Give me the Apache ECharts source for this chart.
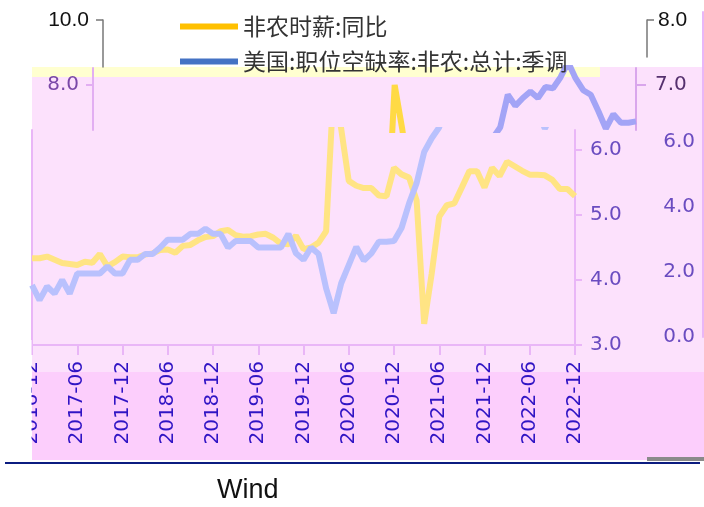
<!DOCTYPE html>
<html><head><meta charset="utf-8">
<script src="https://cdn.jsdelivr.net/npm/echarts@6/dist/echarts.min.js"></script>
<style>html,body{margin:0;padding:0;background:#fff}#c{width:704px;height:507px}</style>
</head><body><div id="c"></div>
<script>
const months = ["2016-12","2017-01","2017-02","2017-03","2017-04","2017-05","2017-06","2017-07","2017-08","2017-09","2017-10","2017-11",
"2017-12","2018-01","2018-02","2018-03","2018-04","2018-05","2018-06","2018-07","2018-08","2018-09","2018-10","2018-11",
"2018-12","2019-01","2019-02","2019-03","2019-04","2019-05","2019-06","2019-07","2019-08","2019-09","2019-10","2019-11",
"2019-12","2020-01","2020-02","2020-03","2020-04","2020-05","2020-06","2020-07","2020-08","2020-09","2020-10","2020-11",
"2020-12","2021-01","2021-02","2021-03","2021-04","2021-05","2021-06","2021-07","2021-08","2021-09","2021-10","2021-11",
"2021-12","2022-01","2022-02","2022-03","2022-04","2022-05","2022-06","2022-07","2022-08","2022-09","2022-10","2022-11","2022-12"];
// 非农时薪:同比 (left axis)
const wageYoY = [2.67,2.67,2.72,2.62,2.52,2.49,2.46,2.56,2.53,2.80,2.42,2.55,
2.72,2.70,2.70,2.78,2.82,2.92,2.94,2.84,3.05,3.08,3.22,3.32,
3.35,3.50,3.54,3.38,3.33,3.35,3.40,3.42,3.30,3.12,3.10,3.36,
2.95,3.00,3.15,3.50,8.00,6.65,5.05,4.90,4.83,4.83,4.60,4.58,
5.45,5.25,5.15,4.45,0.65,2.20,3.95,4.30,4.36,4.85,5.35,5.35,
4.85,5.45,5.20,5.64,5.50,5.36,5.24,5.24,5.22,5.08,4.80,4.80,4.58];
// 美国:职位空缺率:非农:总计:季调 (right axis)
const openingsRate = [3.92,3.69,3.90,3.79,4.00,3.79,4.10,4.10,4.10,4.10,4.21,4.10,
4.10,4.31,4.31,4.40,4.40,4.50,4.62,4.62,4.62,4.71,4.71,4.79,
4.71,4.71,4.50,4.60,4.60,4.60,4.50,4.50,4.50,4.50,4.71,4.41,
4.31,4.50,4.40,3.87,3.49,3.95,4.23,4.51,4.30,4.41,4.59,4.59,
4.60,4.80,5.18,5.49,5.97,6.18,6.35,6.85,6.68,6.80,6.90,6.80,
6.97,6.95,7.12,7.35,7.10,6.92,6.85,6.60,6.33,6.55,6.42,6.42,6.44];
const seriesNames = ["非农时薪:同比","美国:职位空缺率:非农:总计:季调"];
const rightTicks = [3,4,5,6];
const leftCopyTicks = [0,2,4,6];
const stripLeftTicks = [8];
const stripRightTicks = [7];
const topLeftTicks = [10];
const topRightTicks = [8];
const sourceText = "Wind";

const fmt = v => Number(v).toFixed(1);
const LP = '#E9B6F7';
const chart = echarts.init(document.getElementById('c'), null, {renderer:'canvas'});
function hiddenX(g){return {type:'value',gridIndex:g,show:false,min:0,max:1};}
chart.setOption({
  backgroundColor:'#ffffff',
  animation:false,
  legend:{
    orient:'vertical', left:175, top:10, itemGap:12, itemWidth:58, itemHeight:6, icon:'rect',
    textStyle:{fontSize:23, color:'#333', fontFamily:'"Noto Sans CJK SC", sans-serif'},
    data:[{name:seriesNames[0], itemStyle:{color:'#FFC000'}},{name:seriesNames[1], itemStyle:{color:'#4472C4'}}]
  },
  grid:[
    {left:32, top:130, width:543, height:215},
    {left:93, top:68, width:543, height:62},
    {left:703, top:12, width:1, height:325},
    {left:103, top:20, width:1, height:47},
    {left:647, top:20, width:1, height:37}
  ],
  xAxis:[
    {type:'category', gridIndex:0, data:months, boundaryGap:false,
     axisLine:{lineStyle:{color:LP, width:2}},
     axisTick:{interval:5, length:10, lineStyle:{color:LP, width:2}},
     axisLabel:{interval:5, rotate:90, margin:16, color:'#3014C4', fontSize:20, fontFamily:'"DejaVu Sans", sans-serif'}},
    {type:'category', gridIndex:1, data:months, boundaryGap:false, show:false},
    hiddenX(2), hiddenX(3), hiddenX(4)
  ],
  yAxis:[
    {type:'value', gridIndex:0, position:'left', min:0, max:6.6154, splitLine:{show:false},
     axisLine:{show:true, lineStyle:{color:LP, width:2}}, axisTick:{show:false}, axisLabel:{show:false}},
    {type:'value', gridIndex:0, position:'right', min:3, max:6.3077, splitLine:{show:false},
     axisLine:{show:true, lineStyle:{color:LP, width:2}},
     axisTick:{show:true, customValues:rightTicks, length:7, lineStyle:{color:LP, width:2}},
     axisLabel:{customValues:rightTicks, formatter:fmt, margin:15, color:'#6A4CC0', fontSize:20, fontFamily:'"DejaVu Sans", sans-serif'}},
    {type:'value', gridIndex:1, position:'left', min:6.6154, max:8.5231, splitLine:{show:false},
     axisLine:{show:true, lineStyle:{color:'#E2AEF2', width:2}},
     axisTick:{show:true, customValues:stripLeftTicks, length:7, lineStyle:{color:'#E2AEF2', width:2}},
     axisLabel:{customValues:stripLeftTicks, formatter:fmt, margin:14, color:'#7A48A8', fontSize:20, fontFamily:'"DejaVu Sans", sans-serif'}},
    {type:'value', gridIndex:1, position:'right', min:6.3077, max:7.2615, splitLine:{show:false},
     axisLine:{show:true, lineStyle:{color:'#D9A6EC', width:2}},
     axisTick:{show:true, customValues:stripRightTicks, length:10, lineStyle:{color:'#D9A6EC', width:2}},
     axisLabel:{customValues:stripRightTicks, formatter:fmt, margin:19, color:'#55306E', fontSize:20, fontFamily:'"DejaVu Sans", sans-serif'}},
    {type:'value', gridIndex:2, position:'left', min:0, max:10, splitLine:{show:false},
     axisLine:{show:true, lineStyle:{color:LP, width:2}}, axisTick:{show:false},
     axisLabel:{customValues:leftCopyTicks, formatter:fmt, margin:8, color:'#6A4CC0', fontSize:20, fontFamily:'"DejaVu Sans", sans-serif'}},
    {type:'value', gridIndex:3, position:'left', min:8.5538, max:10, splitLine:{show:false},
     axisLine:{show:true, lineStyle:{color:'#777', width:1.5}},
     axisTick:{show:true, customValues:topLeftTicks, length:7, lineStyle:{color:'#777', width:1.5}},
     axisLabel:{customValues:topLeftTicks, formatter:fmt, margin:14, color:'#111', fontSize:21, fontFamily:'"Liberation Sans", sans-serif'}},
    {type:'value', gridIndex:4, position:'right', min:7.4308, max:8, splitLine:{show:false},
     axisLine:{show:true, lineStyle:{color:'#777', width:1.5}},
     axisTick:{show:true, customValues:topRightTicks, length:7, lineStyle:{color:'#777', width:1.5}},
     axisLabel:{customValues:topRightTicks, formatter:fmt, margin:10, color:'#111', fontSize:21, fontFamily:'"Liberation Sans", sans-serif'}}
  ],
  series:[
    {name:seriesNames[0], type:'line', xAxisIndex:0, yAxisIndex:0, data:wageYoY, showSymbol:false, lineStyle:{color:'#FFE484', width:6}, itemStyle:{color:'#FFC000'}},
    {name:seriesNames[1], type:'line', xAxisIndex:0, yAxisIndex:1, data:openingsRate, showSymbol:false, lineStyle:{color:'#B9C1FD', width:6}, itemStyle:{color:'#4472C4'}},
    {name:seriesNames[0], type:'line', xAxisIndex:1, yAxisIndex:2, data:wageYoY, showSymbol:false, lineStyle:{color:'#FFDA45', width:6}, itemStyle:{color:'#FFC000'}},
    {name:seriesNames[1], type:'line', xAxisIndex:1, yAxisIndex:3, data:openingsRate, showSymbol:false, lineStyle:{color:'#A3A4F6', width:6}, itemStyle:{color:'#4472C4'}}
  ],
  graphic:[
    {type:'rect', z:-10, silent:true, shape:{x:32,y:77,width:672,height:295}, style:{fill:'#FCE1FC'}},
    {type:'rect', z:-10, silent:true, shape:{x:32,y:372,width:672,height:88}, style:{fill:'#FCCEFC'}},
    {type:'rect', z:-10, silent:true, shape:{x:32,y:67,width:568,height:10}, style:{fill:'#FFFFD0'}},
    {type:'rect', z:-10, silent:true, shape:{x:600,y:67,width:104,height:10}, style:{fill:'#FCE1FC'}},
    {type:'rect', z:100, silent:true, shape:{x:0,y:340,width:31.5,height:122}, style:{fill:'#ffffff'}},
    {type:'line', z:100, silent:true, shape:{x1:5,y1:463,x2:700,y2:463}, style:{stroke:'#0B1C80', lineWidth:2}},
    {type:'rect', z:100, silent:true, shape:{x:647,y:457,width:57,height:4}, style:{fill:'#8A8A8A'}},
    {type:'text', z:100, silent:true, x:217, y:477, style:{text:sourceText, font:'27px "Liberation Sans Narrow", "Liberation Sans", sans-serif', fill:'#111'}}
  ]
});
</script>
</body></html>
